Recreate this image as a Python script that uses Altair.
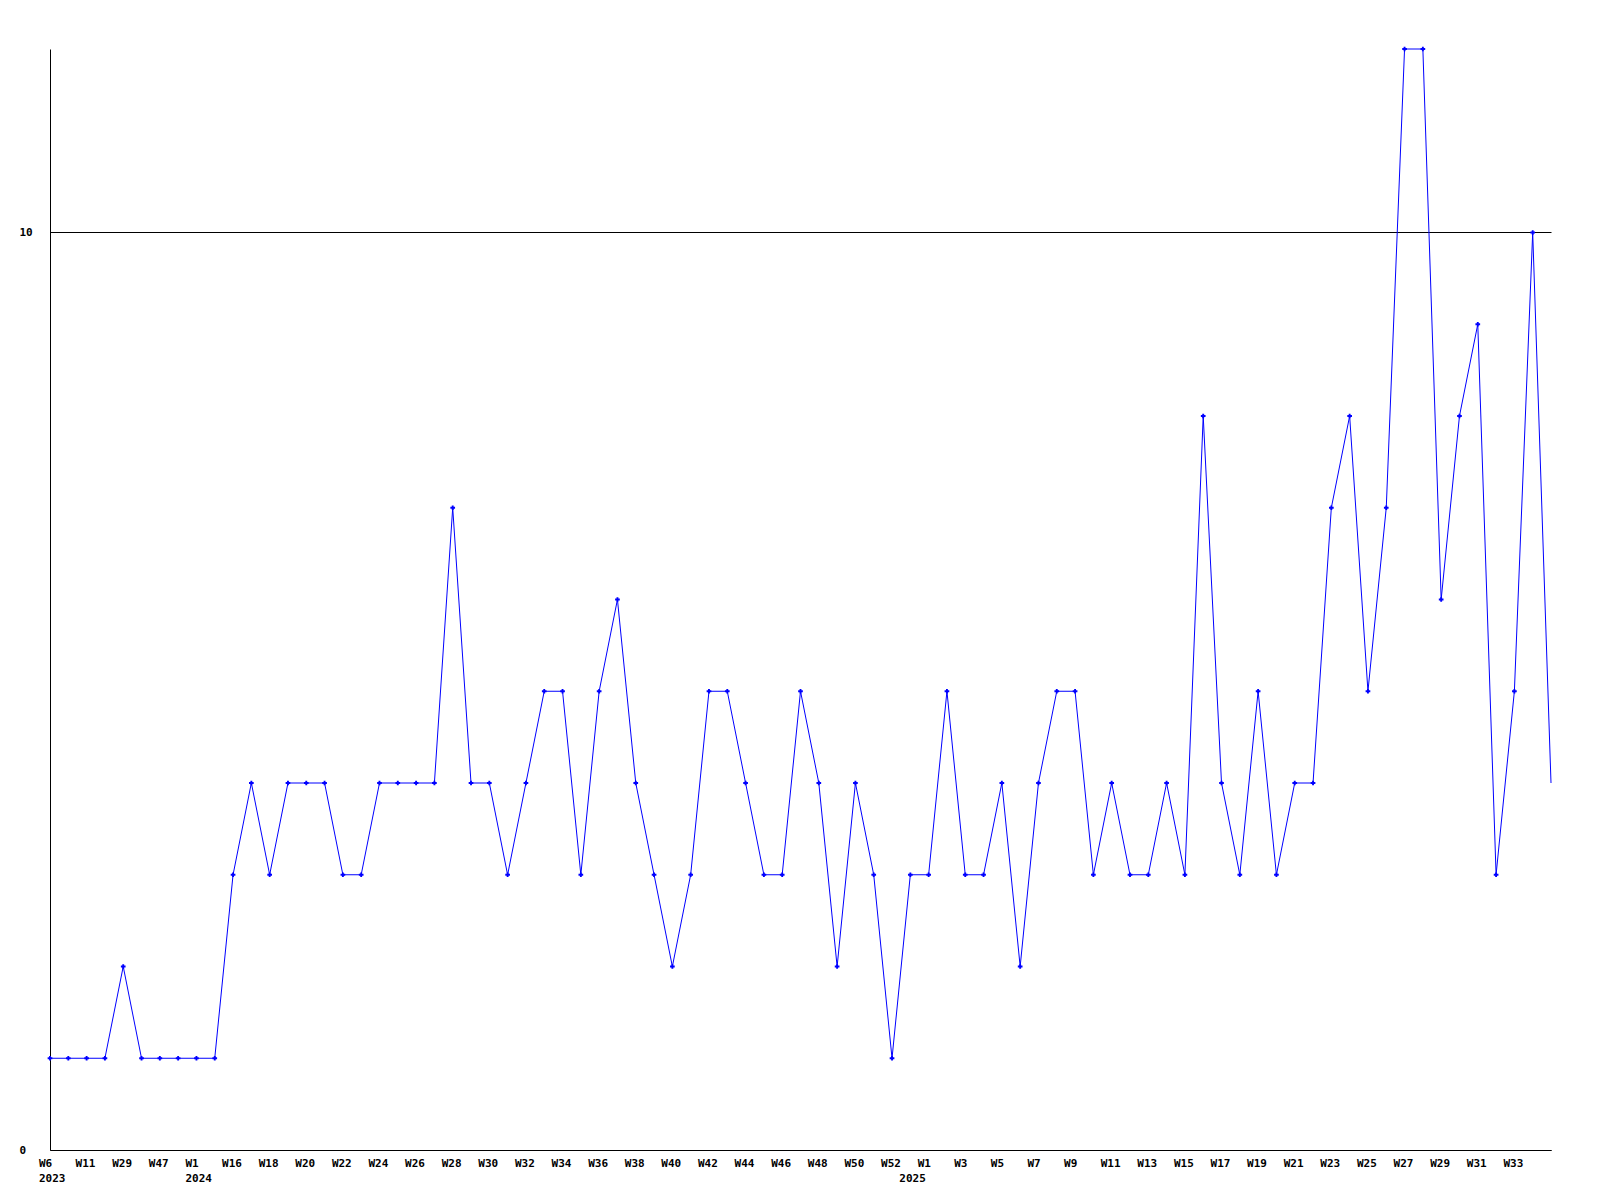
import altair as alt
import pandas as pd

# Values per point (equally spaced positions)
values = [1, 1, 1, 1, 2, 1, 1, 1, 1, 1,
          3, 4, 3, 4, 4, 4, 3, 3, 4, 4,
          4, 4, 7, 4, 4, 3, 4, 5, 5, 3,
          5, 6, 4, 3, 2, 3, 5, 5, 4, 3,
          3, 5, 4, 2, 4, 3, 1, 3, 3, 5,
          3, 3, 4, 2, 4, 5, 5, 3, 4, 3,
          3, 4, 3, 8, 4, 3, 5, 3, 4, 4,
          7, 8, 5, 7, 12, 12, 6, 8, 9, 3,
          5, 10, 4]

# Tick labels at selected positions
tick_positions = [0, 2, 4, 6, 8, 10] + list(range(12, 47, 2)) + [47] + list(range(48, 81, 2))
tick_texts = (["W6\n2023", "W11", "W29", "W47", "W1\n2024", "W16"]
              + [f"W{w}" for w in range(18, 53, 2)]
              + ["\n2025"]
              + [f"W{w}" for w in range(1, 34, 2)])

y_ticks = [0, 10]

df = pd.DataFrame({"i": list(range(len(values))), "v": values})
df_pts = df[df["i"] < len(values) - 1]
df_lab = pd.DataFrame({"i": tick_positions, "t": tick_texts})

FONT = "DejaVu Sans Mono"
W, H = 1501, 1101

x_scale = alt.Scale(domain=[0, len(values) - 1], nice=False, zero=False)

x_enc = alt.X("i:Q", scale=x_scale,
              axis=alt.Axis(values=tick_positions, labels=False, title=None,
                            ticks=False, grid=False, domainColor="black", domainWidth=1))
y_enc = alt.Y("v:Q",
              scale=alt.Scale(domain=[0, 12], nice=False),
              axis=alt.Axis(values=y_ticks, format="d", title=None, ticks=False, grid=True,
                            gridColor="black", gridOpacity=1, gridWidth=1,
                            domainColor="black", domainWidth=1,
                            labelAlign="left", labelBaseline="middle", labelPadding=31,
                            labelFont=FONT, labelFontSize=11, labelFontWeight="bold",
                            labelColor="black"))

line = alt.Chart(df).mark_line(color="#0000ff", strokeWidth=1).encode(x=x_enc, y=y_enc)
pts = alt.Chart(df_pts).mark_point(shape="cross", filled=True, size=22, color="#0000ff",
                                   opacity=1).encode(x="i:Q", y="v:Q")
labels = alt.Chart(df_lab).mark_text(
    align="left", baseline="top", dx=-11, lineBreak="\n", lineHeight=15,
    font=FONT, fontSize=11, fontWeight="bold", color="black"
).encode(x=alt.X("i:Q", scale=x_scale), y=alt.value(H + 8), text="t:N")

chart = alt.layer(line, pts, labels).properties(
    width=W, height=H,
    autosize=alt.AutoSizeParams(type="none"),
    padding={"left": 42, "top": 41, "right": 40, "bottom": 40},
    background="white",
).configure_view(stroke=None)

chart.save("out.html", embed_options={"renderer": "svg", "actions": False})
